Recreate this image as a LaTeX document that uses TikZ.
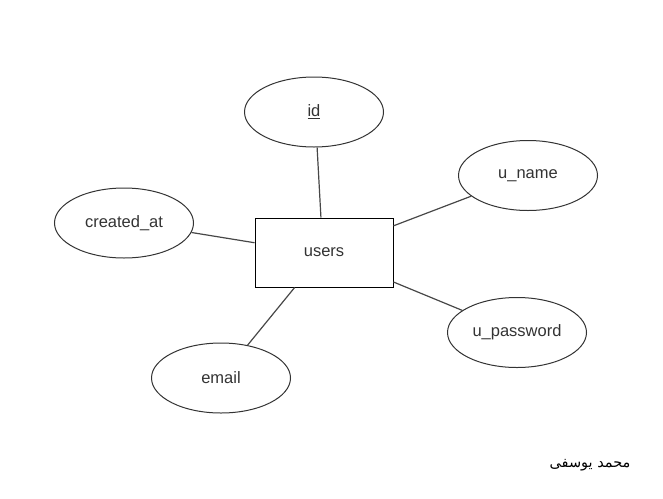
\documentclass[tikz,border=0pt]{standalone}
\usepackage{fontspec}
\setmainfont{Liberation Sans}
\newfontfamily\arabicfont[Script=Arabic]{DejaVu Sans}
\TeXXeTstate=1
\usetikzlibrary{shapes.geometric}
\definecolor{strk}{HTML}{333333}
\definecolor{txt}{HTML}{333333}
\tikzset{
  attr/.style={ellipse, draw=strk, line width=1pt, minimum width=139pt, minimum height=70pt, inner sep=0pt, text=txt, font=\fontsize{16.5}{19}\selectfont},
  entity/.style={rectangle, draw=black, line width=1pt, minimum width=138pt, minimum height=69pt, inner sep=0pt, text=txt, font=\fontsize{16.5}{19}\selectfont},
  link/.style={draw=strk!90!white, line width=1.2pt}
}
\begin{document}
\begin{tikzpicture}[x=1pt,y=1pt]
\useasboundingbox (0,0) rectangle (663,-498);
\node[entity] (users) at (324,-252.5) {users};
\node[attr] (id) at (314,-112) {\underline{id}};
\node[attr] (uname) at (528,-175.5) {u\_name};
\node[attr] (created) at (124,-223) {created\_at};
\node[attr] (upass) at (517,-332.5) {u\_password};
\node[attr] (email) at (221,-378) {email};
\node[font=\arabicfont\fontsize{14.5}{17}\selectfont, text=black, inner sep=0pt] (author) at (590,-465) {\beginR محمد یوسفی\endR};
\draw[link] (id.-85.2) -- (users.95);
\draw[link] (uname.200.1) -- (users.21.7);
\draw[link] (upass.158.3) -- (users.-23.1);
\draw[link] (email.51.5) -- (users.230.8);
\draw[link] (created.-8.4) -- (users.172.2);
\end{tikzpicture}
\end{document}
